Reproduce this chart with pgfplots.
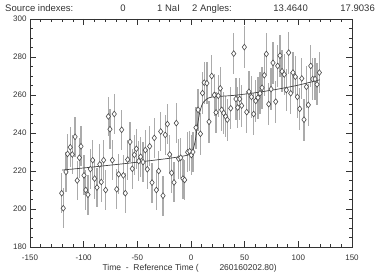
\documentclass[border=0pt]{standalone}
\usepackage{fontspec}
\setmainfont{Liberation Sans}
\usepackage{pgfplots}
\usepackage{pgfplotstable}
\pgfplotsset{compat=1.18}
\definecolor{axcol}{HTML}{333333}
\definecolor{barcol}{HTML}{ABABAB}
\definecolor{mkcol}{HTML}{4A4A4A}
\pgfplotstableread{
x y
-120.5 208.3
-119 200.4
-116.5 219.5
-115 229
-112.5 232.5
-110.6 228.7
-108 238
-106 215
-104 227
-102.5 233
-99.7 217.7
-98 210
-96 207.5
-93.8 221
-91.6 225.7
-89.8 216
-87.6 211.3
-85 223.5
-83.6 214.2
-81.4 225.7
-79.5 210
-77 248.7
-75.5 242
-73.3 225.7
-71.5 250
-69.2 210.4
-67.4 218.3
-64.6 241.7
-63 217.7
-61.2 208.3
-59 226
-56.8 235.3
-54.7 221.2
-52.8 228.5
-50.9 231.7
-48.7 225.2
-46.9 227.5
-44.7 224.7
-42.6 231
-40.7 220.9
-38.5 233
-36.3 213.9
-34.2 237.4
-32.3 210
-30.1 220
-28.2 240.8
-26.1 207
-24 239
-22 244.7
-19.9 228.7
-18 219
-15.8 214
-13.7 245.2
-11.5 226.5
-9.6 227
-7.5 216
-5.9 215.3
-3.1 229.9
-1.2 230.4
0.3 228.4
1.8 230
}\leftdata
\pgfplotstableread{
x y
4.6 242.8
6.6 252.2
8.8 239.6
10.7 261
12.3 266.5
14.8 266.2
16.8 245.9
19.3 270
21.7 260
23.3 250.8
25.4 259.6
27.3 263.5
28.6 252.2
30.5 250.5
32.3 248.7
33.8 247
37 253
39.8 281.8
41.9 257.9
43.5 253.4
45.4 257.9
47.2 254.4
49.7 285.2
51.9 251
54 261.7
56.3 259
58.4 250
60.3 256.9
62.4 258.6
64.3 260.9
66.2 263.8
68.3 270.4
70.2 281.6
72.4 255.2
74.6 263.1
76.4 276.9
78.9 256.5
80.8 275.3
82.9 280.7
84.8 272.5
86.9 270.8
88.8 262.6
91 282.3
92.9 260.9
95 271.8
97.2 269.6
99.1 259
101.3 252.7
103.2 268.7
105.3 247
107.5 264.3
109.3 254.8
111.6 275.3
113.4 268.4
115.6 268.4
117.4 265.6
119.6 271.8
}\rightdata
\begin{document}
\begin{tikzpicture}[x=1pt,y=1pt]
\path[use as bounding box] (-30,-29) rectangle (352,247);
\begin{axis}[
  at={(0,0)}, anchor=south west,
  scale only axis, width=322pt, height=228pt,
  xmin=-150, xmax=150, ymin=180, ymax=300,
  xtick distance=50, ytick distance=20,
  minor x tick num=4, minor y tick num=3,
  tick align=inside,
  major tick length=6pt, minor tick length=3pt,
  axis line style={axcol, line width=0.6pt},
  every tick/.style={axcol, line width=0.5pt},
  tick label style={font=\fontsize{8}{10}\selectfont, text=axcol},
  xticklabel style={yshift=-4pt},
  /pgf/number format/assume math mode=true,
  clip=false,
]
\addplot[only marks, mark=diamond*, mark size=2.9pt,
  mark options={draw=mkcol, fill=white, line width=0.6pt},
  error bars/.cd, y dir=both, y fixed=10.5,
  error mark=none,
  error bar style={barcol, line width=1.3pt}]
  table[x=x,y=y] {\leftdata};
\addplot[only marks, mark=diamond*, mark size=2.9pt,
  mark options={draw=mkcol, fill=white, line width=0.6pt},
  error bars/.cd, y dir=both, y fixed=11,
  error mark=none,
  error bar style={barcol, line width=1.3pt}]
  table[x=x,y=y] {\rightdata};
\addplot[smooth, tension=0.4, color=black!75, line width=0.7pt] coordinates {
(-120,220.5) (-100,221.6) (-80,222.8) (-60,224.0) (-40,225.3) (-20,226.7)
(-10,227.6) (-5,228.1) (-2,228.6) (0,229.3) (2,231.5) (4,236) (6,244)
(8,250.5) (10,254.5) (12,256.5) (15,258) (20,259) (40,259.8) (60,261.2)
(80,263) (100,265.2) (120,268)
};
\end{axis}
\begin{scope}[every node/.style={font=\fontsize{9.5}{12}\selectfont, text=axcol, inner sep=0pt}]
\node[anchor=base west] at (-25,235) {Source indexes:};
\node[anchor=base] at (93,235) {0};
\node[anchor=base west] at (127,235) {1 NaI};
\node[anchor=base west] at (162,235) {2 Angles:};
\node[anchor=base east] at (278,235) {13.4640};
\node[anchor=base east] at (345,235) {17.9036};
\end{scope}
\begin{scope}[every node/.style={font=\fontsize{8.5}{10}\selectfont, text=axcol, inner sep=0pt}]
\node[anchor=base east] at (169,-23) {Time\ \ -\ \ Reference Time (};
\node[anchor=base west] at (189.3,-23) {260160202.80)};
\end{scope}
\end{tikzpicture}
\end{document}
